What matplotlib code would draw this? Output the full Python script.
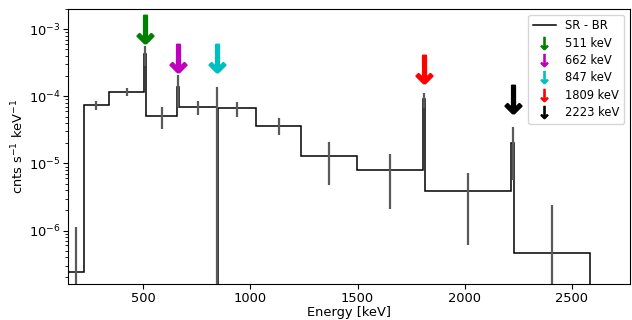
import numpy as np
import matplotlib
matplotlib.use("Agg")
import matplotlib.pyplot as plt

# bin edges [keV] (narrow bins hold the lines)
edges = [150, 224, 340, 506, 516, 657, 667, 845, 849, 1028, 1238, 1497,
         1804, 1814, 2218, 2228, 2586]
# SR - BR rate per bin [cnts/s/keV]
rate = [2.42e-7, 7.4e-5, 1.17e-4, 4.2e-4, 5.06e-5, 1.37e-4, 6.9e-5, -4e-5,
        6.6e-5, 3.67e-5, 1.28e-5, 8.0e-6, 9.0e-5, 3.9e-6, 2.02e-5, 4.7e-7]
rate_err = [8.8e-7, 1.2e-5, 1.5e-5, 1.4e-4, 1.76e-5, 6.8e-5, 1.57e-5, 1.76e-4,
            1.6e-5, 1.05e-5, 8.1e-6, 5.9e-6, 2.3e-5, 3.3e-6, 1.45e-5, 1.9e-6]

# line markers
line_E = [511, 662, 847, 1809, 2223]
line_y = [1.0e-3, 3.7e-4, 3.7e-4, 2.52e-4, 9.0e-5]
line_col = ["g", "m", "c", "r", "k"]

edges = np.array(edges)
rate = np.array(rate)
centers = 0.5 * (edges[1:] + edges[:-1])

fig = plt.figure(figsize=(6.32, 3.2), dpi=100)
ax = fig.add_axes([0.1076, 0.1125, 0.889, 0.8595])

ax.stairs(rate, edges, baseline=0, color="k", lw=1.1, label="SR - BR")
ax.errorbar(centers, rate, yerr=rate_err, fmt="none", ecolor="#5a5a5a",
            elinewidth=1.6, zorder=3)

for E, y, c in zip(line_E, line_y, line_col):
    ax.plot(E, y, ls="none", marker=r"$\downarrow$", ms=20, mew=1.5, color=c,
            label=f"{E} keV")

ax.set_yscale("log")
ax.set_xlim(150, 2770)
ax.set_ylim(1.6e-7, 2e-3)
ax.set_xticks([500, 1000, 1500, 2000, 2500])
ax.tick_params(labelsize=9.4, pad=2)
ax.set_xlabel("Energy [keV]", fontsize=9.4, labelpad=1)
ax.set_ylabel(r"cnts s$^{-1}$ keV$^{-1}$", fontsize=9.4, labelpad=2)
leg = ax.legend(loc="upper right", fontsize=8.3, markerscale=0.45, labelspacing=0.38)
for h in leg.legend_handles[1:]:
    h.set_markeredgewidth(0.8)

fig.savefig("out.png", dpi=100)
